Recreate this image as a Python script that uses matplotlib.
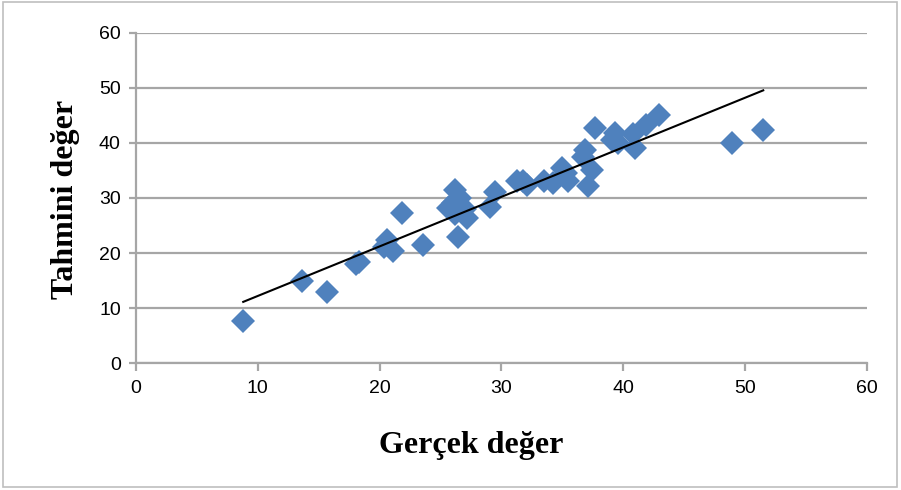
import numpy as np
import matplotlib
matplotlib.use("Agg")
import matplotlib.pyplot as plt
from matplotlib.patches import Rectangle

# observed vs. predicted values
gercek = [8.8, 13.6, 15.7, 18.1, 18.3,
          20.4, 20.6, 21.1, 21.8, 23.6,
          25.6, 26.0, 26.2, 26.2, 26.4, 26.6, 27.0, 27.2,
          29.1, 29.5,
          31.3, 31.8, 32.1, 33.5, 34.2, 35.0, 35.3, 35.5,
          36.7, 36.9, 37.1, 37.4, 37.7,
          39.1, 39.3, 39.6, 40.8, 41.0, 41.9, 42.9,
          48.9, 51.5]
tahmini = [7.6, 15.0, 12.9, 18.0, 18.3,
           21.0, 22.3, 20.4, 27.2, 21.5,
           28.1, 29.0, 31.4, 27.0, 22.9, 30.0, 28.0, 26.3,
           28.4, 31.1,
           33.0, 33.0, 32.4, 33.0, 32.8, 35.4, 34.5, 33.0,
           37.4, 38.7, 32.2, 35.1, 42.7,
           40.5, 41.8, 40.0, 41.6, 39.1, 43.2, 45.1,
           39.9, 42.3]

# linear trend line (slope, intercept)
trend_slope = 0.90
trend_intercept = 3.2

ticks = [0, 10, 20, 30, 40, 50, 60]

fig = plt.figure(figsize=(9.01, 4.90), dpi=100)
ax = fig.add_axes([0.151, 0.259, 0.811, 0.674])

ax.set_xlim(0, 60)
ax.set_ylim(0, 60)
ax.set_xticks(ticks)
ax.set_yticks(ticks)

grid_col = "#a6a6a6"
ax.yaxis.grid(True, color=grid_col, linewidth=1.6)
ax.set_axisbelow(True)
for side in ["top", "right"]:
    ax.spines[side].set_visible(False)
for side in ["left", "bottom"]:
    ax.spines[side].set_color(grid_col)
    ax.spines[side].set_linewidth(1.6)
ax.tick_params(axis="both", color=grid_col, width=1.6, length=6,
               labelsize=14, pad=6)
ax.tick_params(axis="y", length=5)

xs = np.array(gercek)
ax.plot(xs, tahmini, "D", color="#4f81bd", markersize=12,
        markeredgewidth=0, clip_on=False, zorder=3)

tx = np.array([min(gercek), max(gercek)])
ax.plot(tx, trend_slope * tx + trend_intercept, color="black",
        linewidth=1.5, zorder=4)

for lbl in ax.get_xticklabels() + ax.get_yticklabels():
    lbl.set_fontfamily("Liberation Sans")

# axis titles placed by hand, bold serif
fig.text(471 / 901, 1 - 445 / 490, "Gerçek değer", ha="center", va="center",
         fontfamily="Liberation Serif", fontweight="bold", fontsize=23)
fig.text(66 / 901, 1 - 199 / 490, "Tahmini değer", ha="center", va="center",
         rotation=90, fontfamily="Liberation Serif", fontweight="bold",
         fontsize=23)

fig.patches.append(Rectangle((0.003, 0.006), 0.993, 0.99,
                             transform=fig.transFigure, fill=False,
                             edgecolor="#bfbfbf", linewidth=1.2))

fig.savefig("out.png", dpi=100)
